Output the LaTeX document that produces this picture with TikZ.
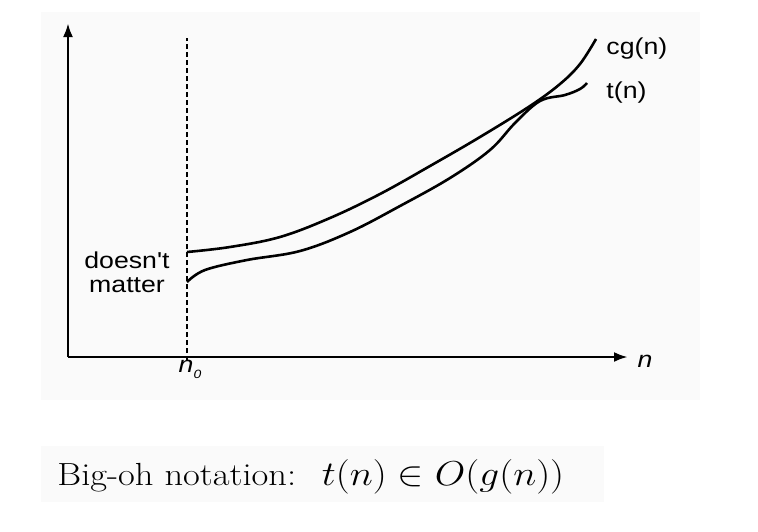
\documentclass[tikz,border=0pt]{standalone}
\usepackage{fontspec}
\newfontfamily\labelfont{Liberation Sans}
\usetikzlibrary{arrows.meta}

\tikzset{
	axis/.style={line width=1.45pt, -{Latex[length=7pt,width=5pt]}},
	curve/.style={line width=1.3pt, smooth, tension=0.6},
	lbl/.style={inner sep=0pt, font=\labelfont\fontsize{11.5}{12}\selectfont, xscale=1.16},
	bgbox/.style={fill=black!2, draw=none}
}

\begin{document}
\begin{tikzpicture}[x=0.5pt, y=-0.5pt]
		\useasboundingbox (0,0) rectangle (758,531);
		\fill[white] (0,0) rectangle (758,531);
		\path[bgbox] (41,12) rectangle (700,400);
		\path[bgbox] (41,446) rectangle (604,502);
		% axes
		\coordinate (origin) at (68,357);
		\coordinate (ytop) at (68,23);
		\coordinate (xend) at (628,357);
		\draw [axis] (origin) -- (ytop);
		\draw [axis] (origin) -- (xend);
		% threshold n_0
		\coordinate (ntop) at (187,38);
		\coordinate (nbot) at (187,361);
		\draw [line width=1.35pt, dash pattern=on 2.5pt off 1.5pt] (nbot) -- (ntop);
		% the two functions
		\draw [curve] plot coordinates {(187,252) (230,247) (280,237) (330,218) (380,194) (430,166) (480,137) (530,106) (560,84) (580,64) (596,39)};
		\draw [curve] plot coordinates {(187,282) (205,270) (247,260) (300,251) (350,232) (400,206) (450,178) (490,150) (515,123) (540,101) (565,95) (580,89) (587,83)};
		% labels
		\node [lbl, anchor=west] (cg) at (606,48.5) {cg(n)};
		\node [lbl, anchor=west] (tn) at (606,93) {t(n)};
		\node [lbl] (xlab) at (645,361) {\itshape n};
		\node [lbl] (nzero) at (190,369) {\itshape n\raisebox{-0.5ex}{\fontsize{6}{6}\selectfont 0}};
		\node [lbl, align=center] (dm) at (127,272) {doesn\textquotesingle t\\matter};
		\node [inner sep=0pt, anchor=base west, font=\fontsize{16}{18}\selectfont, xscale=1.14] (caption) at (57,485) {Big-oh notation: \ $t(n)\in O(g(n))$};
\end{tikzpicture}
\end{document}
